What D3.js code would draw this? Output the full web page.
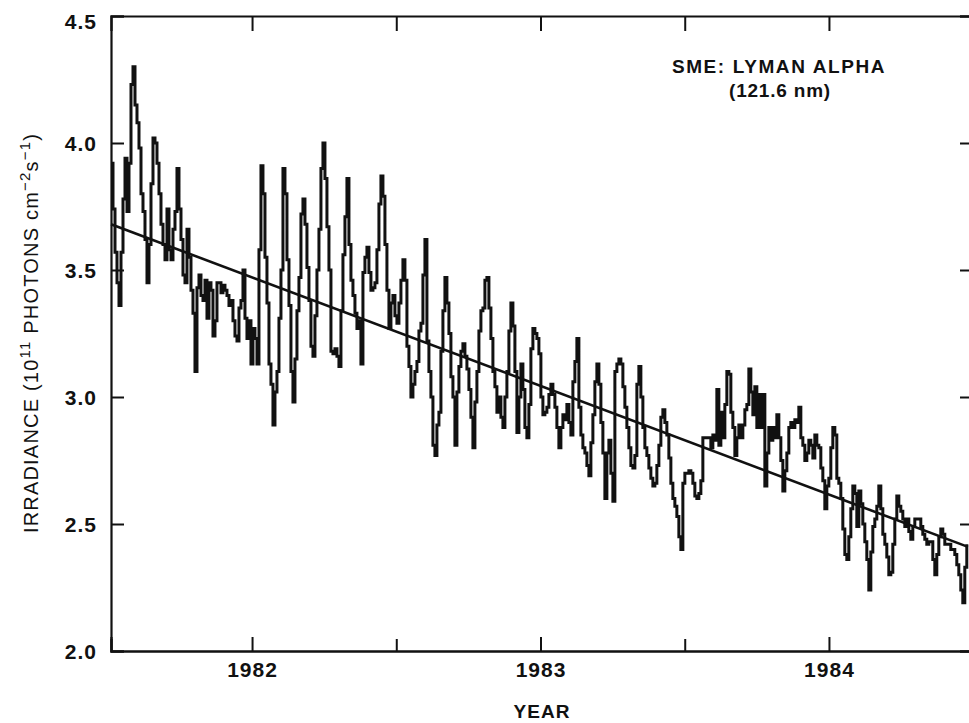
<!DOCTYPE html>
<html><head><meta charset="utf-8">
<script src="https://cdn.jsdelivr.net/npm/d3@7/dist/d3.min.js"></script>
<style>
body{margin:0;background:#fff}
svg{display:block}
text{font-family:"Liberation Sans",Arial,Helvetica,sans-serif;fill:#111}
</style>
</head><body>
<svg id="chart" width="969" height="723"></svg>
<script>
// ---- data ----
const startYear = 1981.511;      // first sample (decimal year)
const stepYears = 0.006932;      // sample spacing (~2.5 days)
const irradiance = [
3.92,3.74,3.57,3.45,3.36,3.57,3.78,3.94,3.73,3.92,
4.23,4.30,4.15,4.08,3.98,3.80,3.73,3.62,3.45,3.60,
3.84,4.02,4.00,3.92,3.80,3.68,3.60,3.54,3.74,3.58,
3.54,3.66,3.73,3.90,3.74,3.62,3.48,3.45,3.66,3.55,
3.42,3.33,3.10,3.43,3.48,3.40,3.38,3.46,3.31,3.45,
3.42,3.24,3.30,3.45,3.45,3.41,3.44,3.42,3.40,3.36,
3.38,3.30,3.24,3.22,3.35,3.38,3.50,3.31,3.23,3.30,
3.13,3.27,3.23,3.13,3.58,3.91,3.80,3.55,3.37,3.13,
3.05,2.89,3.02,3.10,3.31,3.50,3.90,3.80,3.54,3.36,
3.10,2.98,3.15,3.34,3.47,3.72,3.78,3.68,3.51,3.38,
3.20,3.16,3.32,3.50,3.66,3.90,4.00,3.86,3.67,3.50,
3.18,3.17,3.19,3.16,3.12,3.34,3.56,3.71,3.86,3.60,
3.46,3.40,3.33,3.27,3.30,3.13,3.49,3.55,3.59,3.49,
3.42,3.43,3.45,3.58,3.76,3.87,3.79,3.60,3.42,3.27,
3.37,3.40,3.32,3.29,3.37,3.46,3.54,3.46,3.20,3.12,
3.00,3.05,3.10,3.14,3.26,3.29,3.48,3.62,3.22,3.10,
3.00,2.81,2.77,2.89,2.94,3.18,3.34,3.47,3.37,3.25,
3.08,3.00,2.81,3.02,3.12,3.18,3.21,3.16,3.11,3.03,
2.92,2.80,2.98,3.10,3.26,3.34,3.35,3.46,3.47,3.35,
3.23,3.10,3.04,2.94,3.00,2.92,2.88,3.00,3.10,3.26,
3.37,3.28,3.10,2.86,3.00,3.13,3.03,2.88,2.84,2.97,
3.19,3.27,3.25,3.23,3.17,3.00,2.93,2.94,2.96,3.01,
3.05,3.01,2.96,2.88,2.80,2.88,2.93,2.91,2.97,2.90,
2.85,3.06,3.14,3.23,2.96,2.85,2.80,2.78,2.73,2.69,
2.82,2.93,3.06,3.13,3.05,2.90,2.78,2.60,2.78,2.83,
2.70,2.59,3.10,3.13,3.15,3.13,3.04,2.96,2.88,2.80,
2.73,2.72,2.77,3.05,3.12,3.00,2.88,2.80,2.77,2.72,
2.68,2.65,2.66,2.73,2.81,2.92,2.95,2.90,2.85,2.76,
2.66,2.60,2.57,2.53,2.45,2.40,2.66,2.70,2.70,2.71,
2.70,2.66,2.61,2.60,2.62,2.67,2.84,2.84,2.84,2.84,
2.80,2.85,2.83,3.03,2.81,2.94,2.84,2.97,3.10,3.09,
2.94,2.88,2.77,2.84,2.89,2.84,2.89,2.95,2.97,3.11,
3.02,2.93,3.04,2.88,3.01,2.88,3.01,2.65,2.78,2.88,
2.83,2.88,2.84,2.93,2.84,2.75,2.63,2.71,2.78,2.88,
2.90,2.88,2.91,2.90,2.96,2.84,2.81,2.75,2.78,2.83,
2.81,2.76,2.85,2.81,2.80,2.72,2.67,2.56,2.65,2.68,
2.80,2.88,2.85,2.68,2.66,2.60,2.48,2.38,2.36,2.45,
2.56,2.65,2.62,2.49,2.63,2.58,2.50,2.43,2.36,2.24,
2.39,2.49,2.52,2.57,2.65,2.56,2.46,2.42,2.37,2.30,
2.31,2.42,2.52,2.61,2.57,2.55,2.52,2.49,2.52,2.47,
2.44,2.49,2.52,2.52,2.52,2.49,2.46,2.44,2.42,2.43,
2.43,2.36,2.30,2.38,2.45,2.48,2.46,2.42,2.42,2.42,
2.40,2.40,2.38,2.34,2.30,2.24,2.19,2.33,2.42
];
const trendYears = [1981.511, 1984.482];
const trendValues = [3.68, 2.41];
const yearTicks = [1982, 1983, 1984];
const halfYearTicks = [1982.5, 1983.5];
const yTicks = [2.0, 2.5, 3.0, 3.5, 4.0, 4.5];
const xDomain = [1981.511, 1984.489];
const yDomain = [2.0, 4.5];
const titleLines = ["SME: LYMAN ALPHA", "(121.6 nm)"];
const xLabel = "YEAR";

// ---- layout ----
const svg = d3.select("#chart");
const mLeft = 111, mRight = 970, mTop = 16, mBottom = 651;
const x = d3.scaleLinear().domain(xDomain).range([mLeft, mRight]);
const y = d3.scaleLinear().domain(yDomain).range([mBottom, mTop]);

const series = irradiance.map((v, i) => ({t: startYear + i * stepYears, v}));

svg.append("clipPath").attr("id", "clip").append("rect")
  .attr("x", mLeft).attr("y", mTop).attr("width", mRight - mLeft).attr("height", mBottom - mTop);

// data line
svg.append("path")
  .datum(series)
  .attr("clip-path", "url(#clip)")
  .attr("fill", "none")
  .attr("stroke", "#111")
  .attr("stroke-width", 3)
  .attr("stroke-linejoin", "miter")
  .attr("d", d3.line().x(d => x(d.t)).y(d => y(d.v)).curve(d3.curveStepAfter));

// trend line
svg.append("path")
  .datum(trendYears.map((t, i) => ({t, v: trendValues[i]})))
  .attr("fill", "none")
  .attr("stroke", "#111")
  .attr("stroke-width", 2.6)
  .attr("d", d3.line().x(d => x(d.t)).y(d => y(d.v)));

// axes with inward ticks
const axLeft = d3.axisLeft(y).tickValues(yTicks).tickSize(-13).tickPadding(14).tickFormat(d3.format(".1f"));
const gL = svg.append("g").attr("transform", `translate(${mLeft},0)`).call(axLeft);
const axRight = d3.axisRight(y).tickValues(yTicks).tickSize(-10).tickFormat("");
const gR = svg.append("g").attr("transform", `translate(${mRight},0)`).call(axRight);
const axBottom = d3.axisBottom(x).tickValues(yearTicks).tickSize(-14).tickPadding(11).tickFormat(d3.format("d"));
const gB = svg.append("g").attr("transform", `translate(0,${mBottom})`).call(axBottom);
const axBottomMinor = d3.axisBottom(x).tickValues(halfYearTicks).tickSize(-12).tickFormat("");
const gBm = svg.append("g").attr("transform", `translate(0,${mBottom})`).call(axBottomMinor);
const axTop = d3.axisTop(x).tickValues(yearTicks.concat(halfYearTicks)).tickSize(-15).tickFormat("");
const gT = svg.append("g").attr("transform", `translate(0,${mTop})`).call(axTop);

[gL, gR, gB, gBm, gT].forEach(g => {
  g.attr("font-size", 21).attr("font-family", '"Liberation Sans", Arial, sans-serif');
  g.select(".domain").attr("stroke", "#111").attr("stroke-width", 2.2);
  g.selectAll(".tick line").attr("stroke", "#111").attr("stroke-width", 2);
  g.selectAll("text").attr("font-size", 21).attr("fill", "#111")
    .attr("font-weight", "bold").attr("letter-spacing", 1);
});
gL.selectAll(".tick text").attr("dy", d => d === 4.5 ? "0.6em" : "0.36em");

// title
const tg = svg.append("text").attr("text-anchor", "middle").attr("font-size", 19).attr("font-weight", "bold");
tg.append("tspan").attr("x", 779).attr("y", 73).attr("letter-spacing", 1.6).text(titleLines[0]);
tg.append("tspan").attr("x", 780).attr("y", 97).attr("letter-spacing", 0.8).text(titleLines[1]);

// x label
svg.append("text").attr("x", 542).attr("y", 718).attr("text-anchor", "middle")
  .attr("font-size", 19).attr("font-weight", "bold").attr("letter-spacing", 1).text(xLabel);

// y label
const yl = svg.append("text").attr("transform", "translate(38,333) rotate(-90)")
  .attr("text-anchor", "middle").attr("font-size", 20).attr("letter-spacing", 1.2);
yl.append("tspan").text("IRRADIANCE (10");
yl.append("tspan").attr("dy", -8).attr("font-size", 15).text("11");
yl.append("tspan").attr("dy", 8).text(" PHOTONS cm");
yl.append("tspan").attr("dy", -8).attr("font-size", 15).text("\u22122");
yl.append("tspan").attr("dy", 8).text("s");
yl.append("tspan").attr("dy", -8).attr("font-size", 15).text("\u22121");
yl.append("tspan").attr("dy", 8).text(")");
</script>
</body></html>
